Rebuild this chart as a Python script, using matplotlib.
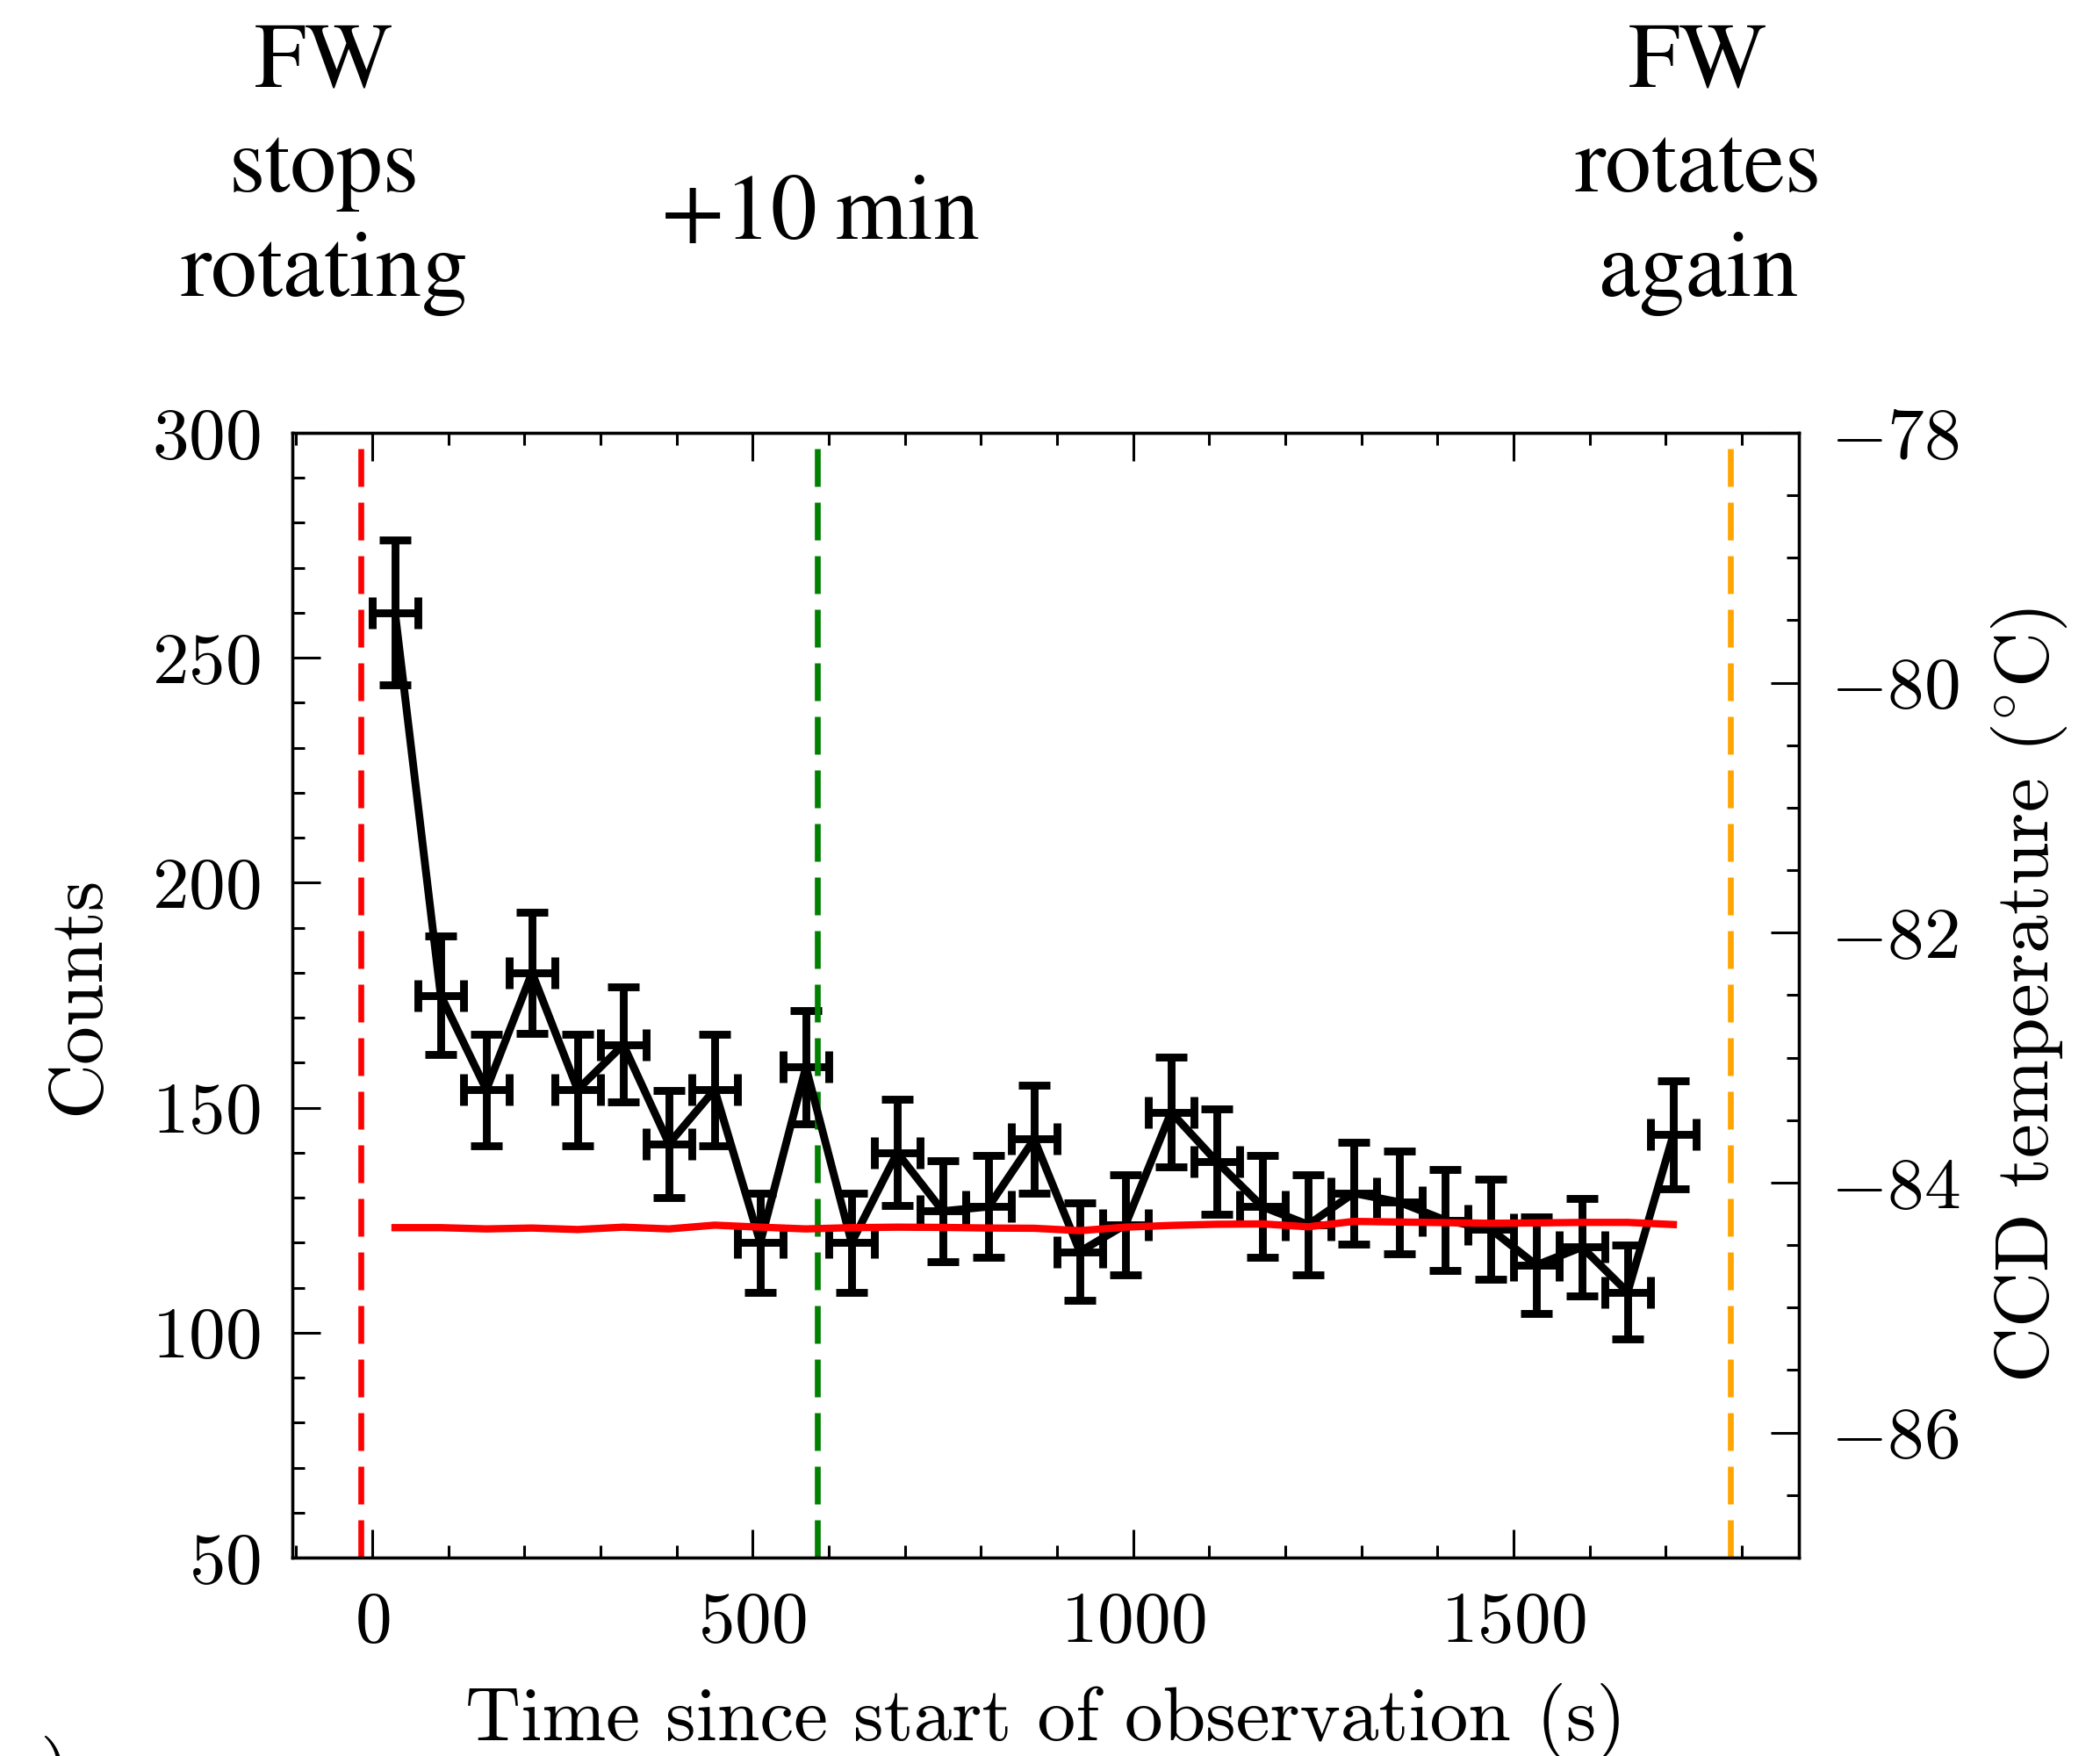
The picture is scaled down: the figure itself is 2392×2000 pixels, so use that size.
import matplotlib
matplotlib.use("Agg")
import matplotlib.pyplot as plt
from matplotlib.ticker import MultipleLocator


# time bins (s), counts with poisson errors, and CCD temperature (deg C)
times = [30, 90, 150, 210, 270, 330, 390, 450, 510, 570,
         630, 690, 750, 810, 870, 930, 990, 1050, 1110, 1170,
         1230, 1290, 1350, 1410, 1470, 1530, 1590, 1650, 1710]
counts = [260, 175, 154, 180, 154, 164, 142, 154, 120, 159,
          120, 140, 127, 128, 143, 118, 124, 149, 138, 128,
          124, 131, 129, 125, 123, 115, 119, 109, 144]
counts_err = [16.1, 13.2, 12.4, 13.4, 12.4, 12.8, 11.9, 12.4, 11.0, 12.6,
              11.0, 11.8, 11.3, 11.3, 12.0, 10.9, 11.1, 12.2, 11.7, 11.3,
              11.1, 11.4, 11.4, 11.2, 11.1, 10.7, 10.9, 10.4, 12.0]
time_err = 30
ccd_temp = [-84.36, -84.36, -84.37, -84.363, -84.375, -84.356, -84.37, -84.34, -84.356, -84.37,
            -84.36, -84.356, -84.358, -84.363, -84.365, -84.384, -84.356, -84.342, -84.333, -84.33,
            -84.353, -84.31, -84.315, -84.32, -84.325, -84.322, -84.318, -84.318, -84.335]

fw_stop = -15
fw_plus10 = 585
fw_rotate = 1785

plt.rcParams["font.family"] = "serif"
plt.rcParams["font.serif"] = ["cmr10"]
plt.rcParams["mathtext.fontset"] = "cm"
plt.rcParams["axes.formatter.use_mathtext"] = True

TICK_FS = 30
LABEL_FS = 31.5
TOP_FS = 38

fig = plt.figure(figsize=(11.96, 10), dpi=200)
ax = fig.add_axes([0.1392, 0.113, 0.7174, 0.6405])

ax.errorbar(times, counts, xerr=time_err, yerr=counts_err,
            color="black", lw=3.2, elinewidth=3.2, capsize=6.5, capthick=3.2)

dash = (0, (6.45, 2.7))
ax.axvline(fw_stop, color="red", ls=dash, lw=2.4)
ax.axvline(fw_plus10, color="green", ls=dash, lw=2.4)
ax.axvline(fw_rotate, color="orange", ls=dash, lw=2.4)

ax.set_xlim(-105, 1875)
ax.set_ylim(50, 300)
ax.set_xlabel("Time since start of observation (s)", fontsize=LABEL_FS, labelpad=11)
ax.set_ylabel("Counts", fontsize=LABEL_FS, labelpad=16)

ax.xaxis.set_major_locator(MultipleLocator(500))
ax.xaxis.set_minor_locator(MultipleLocator(100))
ax.yaxis.set_major_locator(MultipleLocator(50))
ax.yaxis.set_minor_locator(MultipleLocator(10))
ax.tick_params(which="both", direction="in", top=True, right=False, width=1.1)
ax.tick_params(which="major", length=11.5)
ax.tick_params(which="minor", length=5)
ax.tick_params(axis="x", labelsize=TICK_FS, pad=14)
ax.tick_params(axis="y", labelsize=TICK_FS, pad=13)

ax2 = ax.twinx()
ax2.plot(times, ccd_temp, color="red", lw=3.0)
ax2.set_ylim(-87, -78)
ax2.set_ylabel(r"CCD temperature (${}^{\circ}$C)", fontsize=LABEL_FS, labelpad=12)
ax2.yaxis.set_major_locator(MultipleLocator(2))
ax2.yaxis.set_minor_locator(MultipleLocator(0.5))
ax2.tick_params(which="both", direction="in", width=1.1)
ax2.tick_params(which="major", length=11.5)
ax2.tick_params(which="minor", length=5)
ax2.tick_params(axis="y", labelsize=TICK_FS, pad=13)

for a in (ax, ax2):
    for s in a.spines.values():
        s.set_linewidth(1.2)

top_font = ["STIXGeneral", "DejaVu Serif"]
fig.text(0.1543, 0.8315, "FW\nstops\nrotating", ha="center", va="baseline",
         fontsize=TOP_FS, family=top_font, linespacing=1.32, multialignment="center")
fig.text(0.3905, 0.864, "+10\u2009min", ha="center", va="baseline",
         fontsize=TOP_FS, family=top_font)
fig.text(0.8085, 0.8315, "FW\nrotates\nagain", ha="center", va="baseline",
         fontsize=TOP_FS, family=top_font, linespacing=1.32, multialignment="center")

# panel label cut off at the bottom edge
fig.text(0.019, 0.0115, ")", ha="left", va="top", fontsize=LABEL_FS)

fig.savefig("out.png", dpi=200)
